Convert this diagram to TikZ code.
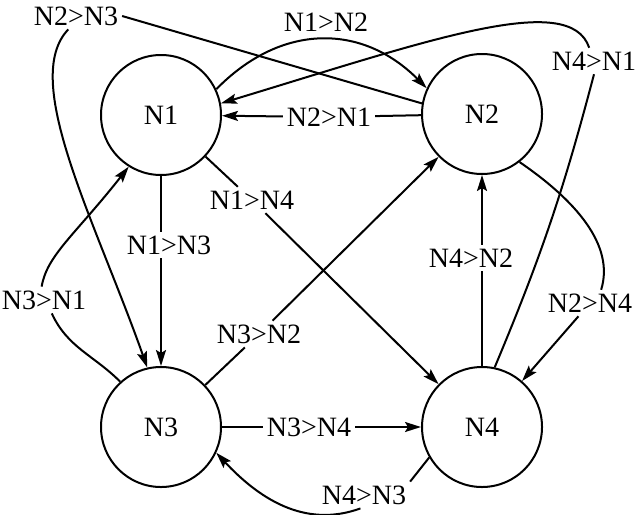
\documentclass[tikz,border=0pt]{standalone}
\usepackage{fontspec}
\setmainfont{Liberation Serif}
\usetikzlibrary{arrows.meta}

\begin{document}
\begin{tikzpicture}[x=0.5pt,y=0.5pt,>={Stealth[length=8pt,width=5pt,inset=1.5pt]},
	line width=1pt,font=\fontsize{14}{16}\selectfont
	]

	\tikzset{state/.style={circle,draw,minimum size=60pt,inner sep=0pt}}
	\tikzset{tag/.style={inner sep=1.5pt}}

	\useasboundingbox (0,0) rectangle (640,-514);

	% the four states
	\node[state] (N1) at (161,-115) {N1};
	\node[state] (N2) at (482,-114) {N2};
	\node[state] (N3) at (161,-427) {N3};
	\node[state] (N4) at (482,-427) {N4};

	% labels of the transitions
	\node[tag] (l12) at (326,-22) {N1>N2};
	\node[tag] (l21) at (329,-117) {N2>N1};
	\node[tag] (l23) at (76,-16) {N2>N3};
	\node[tag] (l41) at (594,-61) {N4>N1};
	\node[tag] (l13) at (169,-245) {N1>N3};
	\node[tag] (l14) at (252,-200) {N1>N4};
	\node[tag] (l31) at (44,-300) {N3>N1};
	\node[tag] (l32) at (259,-334) {N3>N2};
	\node[tag] (l42) at (471,-258) {N4>N2};
	\node[tag] (l24) at (590,-303) {N2>N4};
	\node[tag] (l34) at (309,-427) {N3>N4};
	\node[tag] (l43) at (364,-495) {N4>N3};

	% transitions between the states
	\draw[->] (N1.25) .. controls (281,-23) and (362,-23) .. (N2.155);
	\draw[->] (N2) -- (l21) -- (N1);
	\draw[->] (N2.170) -- (l23.east)
		(l23.240) .. controls (20,-80) and (95,-220) .. (N3.103);
	\draw[->] (N4.78) to[bend right=4] (l41.south)
		(l41.110) .. controls (570,10) and (430,-40) .. (N1.11);
	\draw[->] (N1) -- (N1 |- l13.north) (N1 |- l13.south) -- (N3);
	\draw[->] (N1) -- (l14) -- (N4);
	\draw[->] (N3.132) to[out=135,in=-65] (l31.-60)
		(l31.100) .. controls (47,-255) and (75,-235) .. (N1.238);
	\draw[->] (N3) -- (l32) -- (N2);
	\draw[->] (N4) -- (N4 |- l42.south) (N4 |- l42.north) -- (N2);
	\draw[->] (N2.-52) .. controls (575,-200) and (615,-245) .. (l24.50)
		(l24) -- (N4);
	\draw[->] (N3) -- (l34) -- (N4);
	\draw[->] (N4.210) -- (l43.north east)
		(l43.255) to[out=200,in=-47] (N3.-25);

\end{tikzpicture}
\end{document}
